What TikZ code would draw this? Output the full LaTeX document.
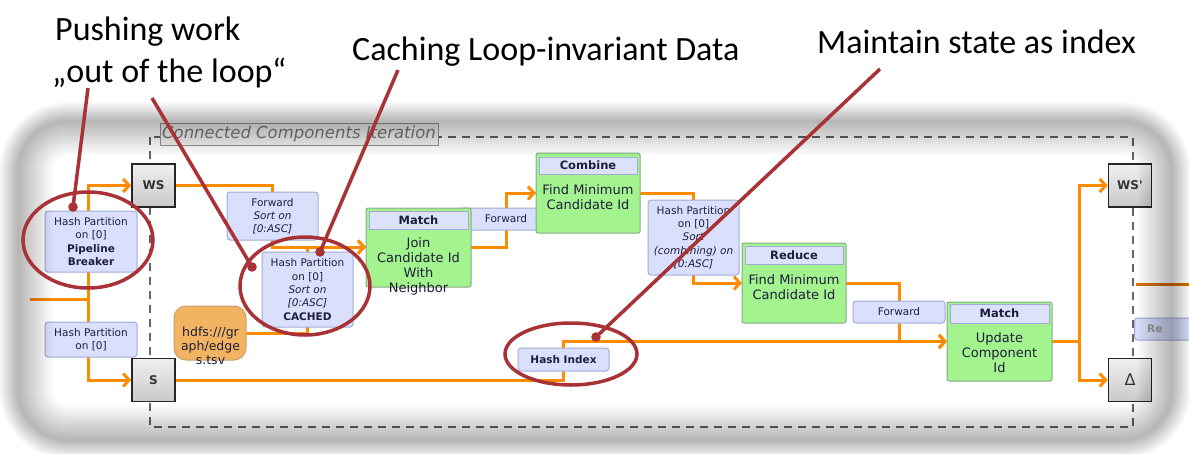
\documentclass[tikz,border=0pt]{standalone}
\usepackage{fontspec}
\setmainfont{DejaVu Sans}
\newfontfamily\annofont{Carlito}
\usetikzlibrary{arrows.meta,shapes.geometric,calc}
\definecolor{edgeor}{RGB}{255,140,0}
\definecolor{bluefill}{RGB}{218,224,251}
\definecolor{blueline}{RGB}{160,172,215}
\definecolor{greenfill}{RGB}{163,243,142}
\definecolor{greenline}{RGB}{135,170,140}
\definecolor{hdrfill}{RGB}{220,226,252}
\definecolor{txt}{RGB}{30,30,60}
\definecolor{annored}{RGB}{168,50,54}
\definecolor{hdfsfill}{RGB}{242,180,96}
\definecolor{hdfsline}{RGB}{200,160,110}
\tikzset{
  opbox/.style={draw=greenline, fill=greenfill, rounded corners=2pt, line width=1pt, inner sep=0pt},
  hdr/.style={draw=blueline, fill=hdrfill, line width=0.8pt, inner sep=0pt, text=txt, font=\bfseries\fontsize{11.5}{13}\selectfont},
  body/.style={align=center, inner sep=0pt, text=txt, font=\fontsize{13}{15}\selectfont},
  ship/.style={draw=blueline, fill=bluefill, rounded corners=3pt, line width=1pt, align=center, inner sep=0pt, text=txt, font=\fontsize{10.5}{13.3}\selectfont},
  gbox/.style={draw=black!85, line width=1.6pt, top color=gray!12, bottom color=gray!42, minimum size=43pt, inner sep=0pt, text=black!80, font=\fontsize{11}{13}\selectfont},
  edge/.style={draw=edgeor, line width=3pt},
  arr/.style={edge, -{Straight Barb[length=6pt,width=13pt]}},
  anno/.style={draw=annored, line width=3.5pt},
  annotext/.style={inner sep=0pt, text=black, font=\annofont\fontsize{34}{42}\selectfont},
  ring/.style={draw=annored, line width=3.5pt, ellipse, inner sep=0pt},
}
\begin{document}
\begin{tikzpicture}[x=1pt,y=-1pt]
\useasboundingbox (0,0) rectangle (1189,453);
\clip (0,0) rectangle (1189,453);
\fill[white] (0,0) rectangle (1189,453);

% iteration frame
\draw[black!60, line width=2pt, dash pattern=on 8pt off 6pt] (150,137) rectangle (1133,427);
\node[draw=black!40, fill=black!4, line width=1pt, minimum width=278pt, minimum height=22pt, inner sep=0pt,
      text=black!50, font=\itshape\fontsize{16.5}{18}\selectfont] (title) at (299,134) {Connected Components Iteration};

% coordinates for edge junctions
\coordinate (in1) at (30,299);
\coordinate (j1) at (88,299);
\coordinate (j2) at (1079,341.5);
\coordinate (out1) at (1136,284);
\coordinate (out2) at (1189,284);

% nodes
\node[gbox, font=\bfseries\fontsize{12}{14}\selectfont] (ws) at (153.5,185.5) {WS};
\node[gbox, font=\bfseries\fontsize{12}{14}\selectfont] (s) at (153.5,380) {S};
\node[gbox, font=\bfseries\fontsize{12}{14}\selectfont] (wsp) at (1130,185.5) {WS\textquotesingle};
\node[gbox, font=\fontsize{16}{18}\selectfont] (delta) at (1130,380) {Δ};

% edges (behind the ship-strategy nodes)
\draw[edge] (in1) -- (j1);
\draw[arr] (j1) |- (ws.west);
\draw[arr] (j1) |- (s.west);
\draw[arr] (ws.east) -| (272.5,216) |- (366,247);
\draw[arr] (246,333) -| (307.5,289.5) |- (366,247);
\draw[arr] (471,247) -| (506,219) |- (536,193);
\draw[arr] (640,193) -| (693.5,237.5) |- (742,283);
\draw[arr] (846,283) -| (899,312) |- (947,341.5);
\draw[arr] (s.east) -| (563.5,359.5) |- (947,341.5);
\draw[edge] (1052,341.5) -- (j2);
\draw[arr] (j2) |- (wsp.west);
\draw[arr] (j2) |- (delta.west);
\draw[edge, draw=edgeor!85!black] (out1) -- (out2);

% ship strategy nodes
\node[ship, minimum width=92pt, minimum height=61pt] (hp1) at (91,241.5) {Hash Partition\\on [0]\\\textbf{Pipeline}\\\textbf{Breaker}};
\node[ship, minimum width=92pt, minimum height=35pt] (hp2) at (91,339.5) {Hash Partition\\on [0]};
\node[ship, minimum width=91pt, minimum height=48pt] (fw1) at (272.5,216) {Forward\\\textit{Sort on}\\\textit{[0:ASC]}};
\node[ship, minimum width=91pt, minimum height=75pt] (hpc) at (307.5,289.5) {Hash Partition\\on [0]\\\textit{Sort on}\\\textit{[0:ASC]}\\\textbf{CACHED}};
\node[draw=hdfsline, fill=hdfsfill, rounded corners=12pt, line width=1pt, minimum width=72pt, minimum height=54pt, inner sep=0pt] (hdfs) at (210,333) {};
\node[body, font=\fontsize{12.5}{14}\selectfont] (hdfst) at (210.5,346) {hdfs:///gr\\aph/edge\\s.tsv};
\node[ship, minimum width=92pt, minimum height=22pt] (fw2) at (506,219) {Forward};
\node[ship, minimum width=91pt, minimum height=75pt] (hp3) at (693.5,237.5) {Hash Partition\\on [0]\\\textit{Sort}\\\textit{(combining) on}\\\textit{[0:ASC]}};
\node[ship, minimum width=92pt, minimum height=22pt] (fw3) at (899,312) {Forward};
\node[ship, minimum width=91pt, minimum height=23pt, font=\bfseries\fontsize{10.5}{12}\selectfont] (hi) at (563.5,359.5) {Hash Index};

% operator nodes
\node[opbox, minimum width=105pt, minimum height=79pt] (m1) at (418.5,247.5) {};
\node[hdr, minimum width=99pt, minimum height=18pt] (m1h) at (418.5,220) {Match};
\node[body] (m1t) at (418.5,266.5) {Join\\Candidate Id\\With\\Neighbor};

\node[opbox, minimum width=104pt, minimum height=80pt] (c1) at (588,193) {};
\node[hdr, minimum width=98pt, minimum height=17pt] (c1h) at (588,165.5) {Combine};
\node[body] (c1t) at (588,197) {Find Minimum\\Candidate Id};

\node[opbox, minimum width=104pt, minimum height=80pt] (r1) at (794,283) {};
\node[hdr, minimum width=98pt, minimum height=18pt] (r1h) at (794,255) {Reduce};
\node[body] (r1t) at (794,287) {Find Minimum\\Candidate Id};

\node[opbox, minimum width=105pt, minimum height=79pt] (u1) at (999.5,341.5) {};
\node[hdr, minimum width=99pt, minimum height=19pt] (u1h) at (999.5,313.5) {Match};
\node[body] (u1t) at (999.5,352.5) {Update\\Component\\Id};

% node outside the iteration (cut off)
\node[ship, anchor=west, minimum width=70pt, minimum height=22pt, text=black!45] (rx) at (1134,329) {};
\node[anchor=west, inner sep=0pt, text=black!40, font=\bfseries\fontsize{10.5}{12}\selectfont] (rxt) at (1147,329) {Re};

% vignette shadow of the screenshot
\foreach \k in {1,...,24} {
  \pgfmathsetmacro\o{0.8*\k}
  \pgfmathsetmacro\i{1.45*\k}
  \pgfmathsetmacro\ro{50+\o}
  \pgfmathsetmacro\ri{max(50-\i,4)}
  \fill[black, opacity=0.0135, even odd rule]
    [rounded corners=\ro pt] ({18-\o},{121-\o}) rectangle ({1172+\o},{440+\o})
    [rounded corners=\ri pt] ({18+\i},{121+\i}) rectangle ({1172-\i},{440-\i});
}

% annotations
\node[annotext, anchor=base west] (t1a) at (55,40) {Pushing work};
\node[annotext, anchor=base west] (t1b) at (52,82) {„out of the loop“};
\node[annotext, anchor=base west] (t2) at (352,60) {Caching Loop-invariant Data};
\node[annotext, anchor=base west] (t3) at (817,53) {Maintain state as index};

\node[ring, minimum width=130pt, minimum height=96pt] (e1) at (88,240) {};
\node[ring, minimum width=130pt, minimum height=98pt] (e2) at (305,286) {};
\node[ring, minimum width=132pt, minimum height=62pt] (e3) at (571,354) {};

\coordinate (a1) at (88,88);
\coordinate (a2) at (152,98);
\coordinate (a3) at (398,70);
\coordinate (a4) at (880,69);
\coordinate (d1) at (73,207);
\coordinate (d2) at (252,267);
\coordinate (d3) at (320,252);
\coordinate (d4) at (596,337);
\draw[anno] (a1) -- (d1);
\draw[anno] (a2) -- (d2);
\draw[anno] (a3) -- (d3);
\draw[anno] (a4) -- (d4);
\foreach \d in {d1,d2,d3,d4} \fill[annored] (\d) circle (4.8pt);
\end{tikzpicture}
\end{document}
